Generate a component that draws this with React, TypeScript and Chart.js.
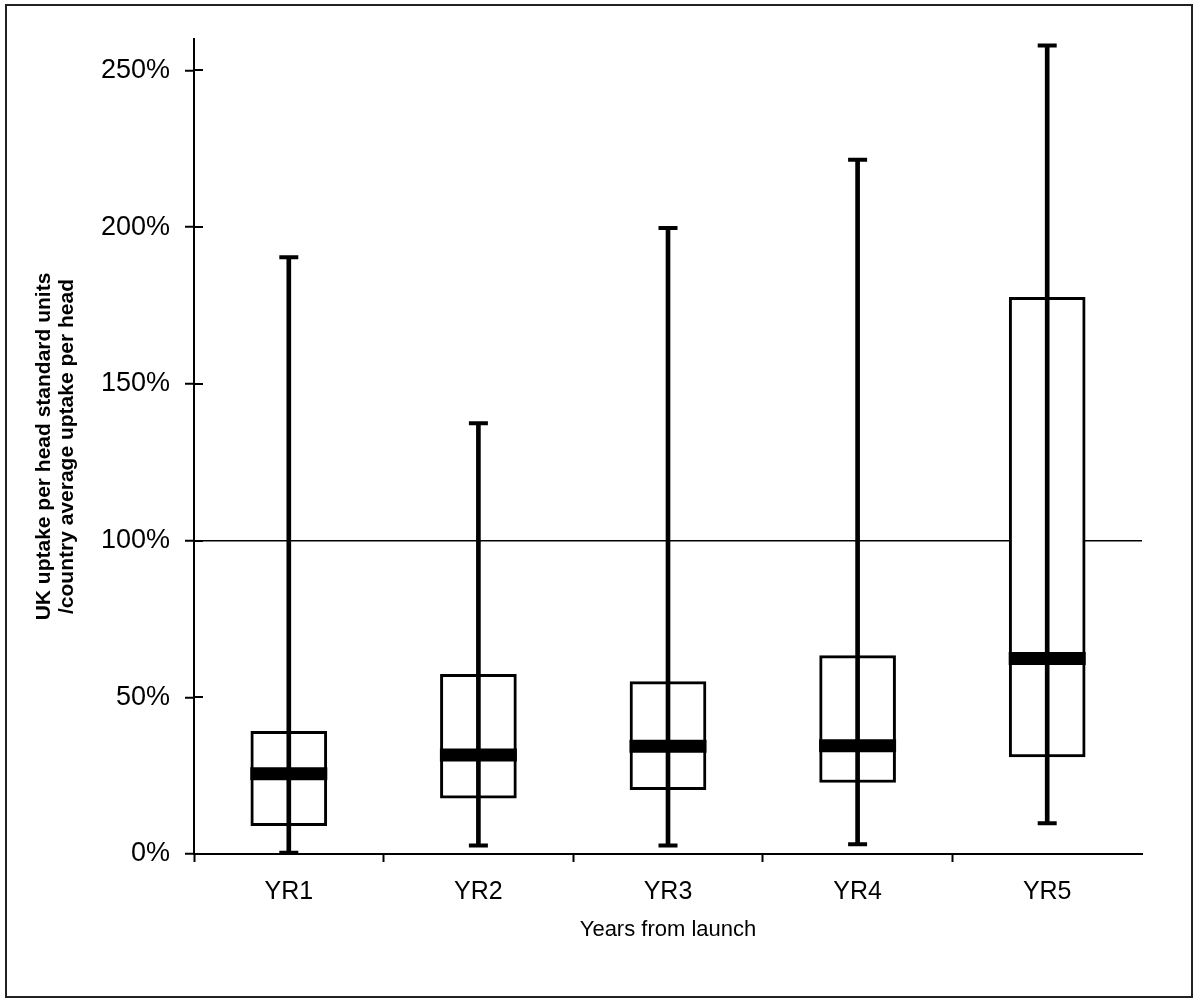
import React, { useEffect, useRef } from 'react';
import { Chart, registerables } from 'chart.js';

Chart.register(...registerables);

const categories = ['YR1', 'YR2', 'YR3', 'YR4', 'YR5'];
const whiskerLow = [0.4, 2.7, 2.7, 3.1, 9.8];
const quartile1 = [9.0, 17.8, 20.5, 22.8, 31.0];
const medians = [25.6, 31.6, 34.4, 34.5, 62.4];
const quartile3 = [39.1, 57.3, 55.0, 63.3, 177.6];
const whiskerHigh = [190.4, 137.4, 199.7, 221.5, 257.9];
const yTicks = [0, 50, 100, 150, 200, 250];
const yMax = 260;
const referenceLevel = 100;

const yTitle = ['UK uptake per head standard units', '/country average uptake per head'];
const xTitle = 'Years from launch';

const FONT = "'Liberation Sans', Arial, sans-serif";

const innerTicks = {
  id: 'innerTicks',
  beforeDatasetsDraw(chart: any) {
    const y = chart.scales.y;
    const { ctx, chartArea } = chart;
    ctx.save();
    ctx.strokeStyle = '#000';
    ctx.lineWidth = 2;
    y.ticks.forEach((t: any) => {
      const py = Math.round(y.getPixelForValue(t.value));
      ctx.beginPath();
      ctx.moveTo(chartArea.left, py);
      ctx.lineTo(chartArea.left + 9, py);
      ctx.stroke();
    });
    ctx.restore();
  },
};

export default function App() {
  const ref = useRef<HTMLCanvasElement | null>(null);

  useEffect(() => {
    if (!ref.current) return;
    const chart = new Chart(ref.current, {
      type: 'bar',
      data: {
        labels: categories,
        datasets: [
          {
            type: 'bar',
            data: categories.map((_, i) => [quartile1[i], quartile3[i]]) as any,
            backgroundColor: '#fff',
            borderColor: '#000',
            borderWidth: 3,
            borderSkipped: false,
            barThickness: 76,
            grouped: false,
            order: 4,
          } as any,
          {
            type: 'bar',
            data: categories.map((_, i) => [whiskerLow[i], whiskerHigh[i]]) as any,
            backgroundColor: '#000',
            borderWidth: 0,
            barThickness: 4,
            grouped: false,
            order: 3,
          } as any,
          {
            type: 'line',
            data: whiskerHigh,
            showLine: false,
            pointStyle: 'line',
            pointRadius: 9.5,
            pointHoverRadius: 9.5,
            pointBorderWidth: 4,
            pointBorderColor: '#000',
            pointBackgroundColor: '#000',
            order: 2,
          } as any,
          {
            type: 'line',
            data: whiskerLow,
            showLine: false,
            pointStyle: 'line',
            pointRadius: 9.5,
            pointHoverRadius: 9.5,
            pointBorderWidth: 4,
            pointBorderColor: '#000',
            pointBackgroundColor: '#000',
            order: 1,
          } as any,
          {
            type: 'line',
            data: medians,
            showLine: false,
            pointStyle: 'line',
            pointRadius: 38.5,
            pointHoverRadius: 38.5,
            pointBorderWidth: 13,
            pointBorderColor: '#000',
            pointBackgroundColor: '#000',
            order: 0,
          } as any,
        ],
      },
      options: {
        responsive: false,
        animation: false,
        devicePixelRatio: 1,
        events: [],
        layout: { autoPadding: false, padding: { top: 39, right: 51, left: 0, bottom: 0 } },
        plugins: {
          legend: { display: false },
          tooltip: { enabled: false },
          title: { display: false },
        },
        scales: {
          x: {
            type: 'category',
            offset: true,
            grid: {
              offset: true,
              drawOnChartArea: false,
              drawTicks: true,
              tickLength: 8,
              tickWidth: 2,
              tickColor: (ctx: any) => (ctx.type === 'tick' ? '#000' : 'rgba(0,0,0,0)'),
            },
            border: { display: true, color: '#000', width: 2 },
            ticks: {
              color: '#000',
              font: { family: FONT, size: 25 },
              padding: 15,
              maxRotation: 0,
              autoSkip: false,
            },
            title: {
              display: true,
              text: xTitle,
              color: '#000',
              font: { family: FONT, size: 22 },
              padding: { top: 0, bottom: 55 },
            },
            afterFit: (s: any) => {
              s.height = 144;
              s.paddingLeft = 0;
              s.paddingRight = 0;
            },
          },
          y: {
            type: 'linear',
            min: 0,
            max: yMax,
            afterBuildTicks: (s: any) => {
              s.ticks = yTicks.map((v) => ({ value: v }));
            },
            grid: {
              color: (ctx: any) =>
                ctx.tick && ctx.tick.value === referenceLevel ? '#000' : 'rgba(0,0,0,0)',
              lineWidth: 1.5,
              drawTicks: true,
              tickColor: '#000',
              tickWidth: 2,
              tickLength: 9,
            },
            border: { display: true, color: '#000', width: 2 },
            ticks: {
              color: '#000',
              font: { family: FONT, size: 27 },
              padding: 15,
              callback: (v: any) => `${v}%`,
            },
            title: {
              display: true,
              text: yTitle,
              color: '#000',
              font: { family: FONT, size: 21, weight: 'bold', lineHeight: 23 / 21 },
              padding: { top: 32.5, bottom: 0 },
            },
            afterFit: (s: any) => {
              s.width = 194;
              s.paddingTop = 0;
              s.paddingBottom = 0;
            },
          },
        },
      } as any,
      plugins: [innerTicks],
    });
    return () => chart.destroy();
  }, []);

  return (
    <div
      style={{
        position: 'fixed',
        left: 0,
        top: 0,
        width: 1193,
        height: 998,
        background: '#fff',
      }}
    >
      <canvas ref={ref} width={1193} height={998} style={{ display: 'block' }} />
      <div
        style={{
          position: 'absolute',
          left: 5,
          top: 4,
          width: 1188,
          height: 994,
          border: '2px solid #222',
          boxSizing: 'border-box',
          pointerEvents: 'none',
        }}
      />
    </div>
  );
}
